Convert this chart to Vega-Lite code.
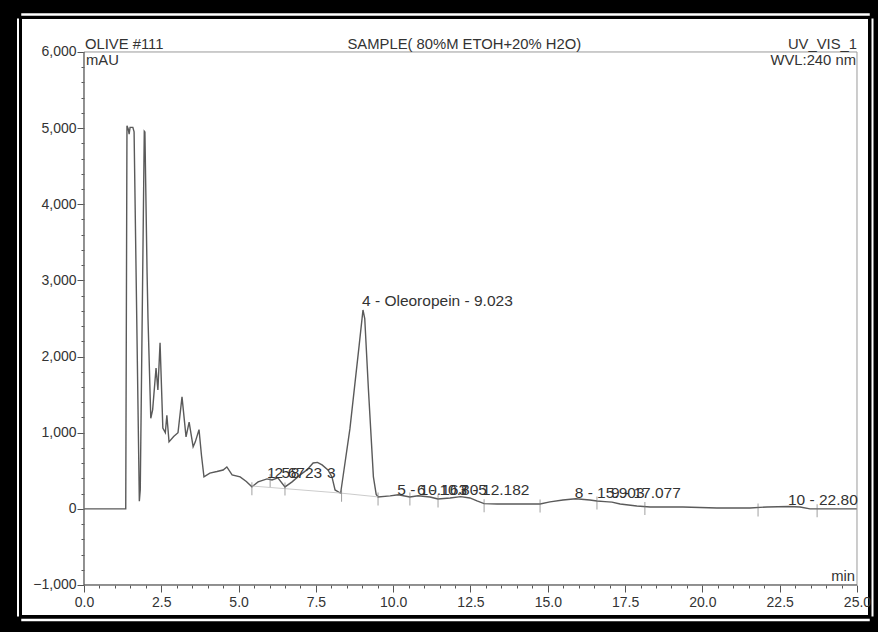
{
  "$schema": "https://vega.github.io/schema/vega-lite/v6.json",
  "width": 846,
  "height": 596,
  "autosize": {"type": "none"},
  "padding": {"left": 22, "top": 19, "right": 10, "bottom": 17},
  "background": "#000000",
  "config": {
    "font": "Liberation Sans",
    "view": {"fill": "#ffffff", "stroke": null}
  },
  "datasets": {
    "curve": [
      {"time": 0.0, "mAU": 0}, {"time": 1.35, "mAU": 0}, {"time": 1.39, "mAU": 5030},
      {"time": 1.43, "mAU": 4990}, {"time": 1.46, "mAU": 4920}, {"time": 1.49, "mAU": 5010},
      {"time": 1.58, "mAU": 5010}, {"time": 1.62, "mAU": 4950}, {"time": 1.79, "mAU": 100},
      {"time": 1.82, "mAU": 250}, {"time": 1.95, "mAU": 4960}, {"time": 1.97, "mAU": 4950},
      {"time": 2.04, "mAU": 3100}, {"time": 2.07, "mAU": 2500}, {"time": 2.16, "mAU": 1190},
      {"time": 2.22, "mAU": 1300}, {"time": 2.33, "mAU": 1850}, {"time": 2.39, "mAU": 1560},
      {"time": 2.46, "mAU": 2180}, {"time": 2.55, "mAU": 1060}, {"time": 2.63, "mAU": 1000},
      {"time": 2.68, "mAU": 1230}, {"time": 2.75, "mAU": 880}, {"time": 2.9, "mAU": 950},
      {"time": 3.04, "mAU": 1000}, {"time": 3.17, "mAU": 1470}, {"time": 3.3, "mAU": 945},
      {"time": 3.4, "mAU": 1140}, {"time": 3.53, "mAU": 815}, {"time": 3.6, "mAU": 880},
      {"time": 3.72, "mAU": 1040}, {"time": 3.8, "mAU": 700}, {"time": 3.88, "mAU": 420},
      {"time": 4.07, "mAU": 470}, {"time": 4.3, "mAU": 490}, {"time": 4.5, "mAU": 510},
      {"time": 4.62, "mAU": 550}, {"time": 4.79, "mAU": 445}, {"time": 5.05, "mAU": 420},
      {"time": 5.25, "mAU": 360}, {"time": 5.43, "mAU": 290}, {"time": 5.63, "mAU": 354},
      {"time": 5.92, "mAU": 393}, {"time": 6.08, "mAU": 380}, {"time": 6.27, "mAU": 406},
      {"time": 6.5, "mAU": 288}, {"time": 6.73, "mAU": 354}, {"time": 6.99, "mAU": 446},
      {"time": 7.21, "mAU": 511}, {"time": 7.41, "mAU": 603}, {"time": 7.55, "mAU": 610},
      {"time": 7.7, "mAU": 577}, {"time": 7.89, "mAU": 511}, {"time": 8.02, "mAU": 419},
      {"time": 8.12, "mAU": 248}, {"time": 8.3, "mAU": 205}, {"time": 8.6, "mAU": 1050},
      {"time": 8.9, "mAU": 2150}, {"time": 9.023, "mAU": 2612}, {"time": 9.08, "mAU": 2500},
      {"time": 9.2, "mAU": 1560}, {"time": 9.36, "mAU": 420}, {"time": 9.45, "mAU": 190},
      {"time": 9.51, "mAU": 157}, {"time": 9.9, "mAU": 170}, {"time": 10.163, "mAU": 185},
      {"time": 10.54, "mAU": 156}, {"time": 10.805, "mAU": 172}, {"time": 11.19, "mAU": 156},
      {"time": 11.45, "mAU": 130}, {"time": 11.84, "mAU": 143}, {"time": 12.182, "mAU": 160},
      {"time": 12.48, "mAU": 143}, {"time": 12.71, "mAU": 104}, {"time": 12.94, "mAU": 68},
      {"time": 13.36, "mAU": 64}, {"time": 13.78, "mAU": 64}, {"time": 14.33, "mAU": 64},
      {"time": 14.75, "mAU": 64}, {"time": 15.07, "mAU": 91}, {"time": 15.49, "mAU": 117},
      {"time": 15.903, "mAU": 132}, {"time": 16.36, "mAU": 117}, {"time": 16.59, "mAU": 104},
      {"time": 16.85, "mAU": 95}, {"time": 17.077, "mAU": 88}, {"time": 17.34, "mAU": 64},
      {"time": 17.88, "mAU": 38}, {"time": 18.31, "mAU": 25}, {"time": 19.37, "mAU": 25},
      {"time": 20.47, "mAU": 12}, {"time": 21.54, "mAU": 12}, {"time": 22.09, "mAU": 25},
      {"time": 22.8, "mAU": 30}, {"time": 23.16, "mAU": 25}, {"time": 23.48, "mAU": 0},
      {"time": 25.0, "mAU": 0}
    ],
    "baseline": [
      {"time": 5.43, "mAU": 300}, {"time": 8.3, "mAU": 207}, {"time": 9.51, "mAU": 157}
    ],
    "cuts": [
      {"time": 5.43, "mAU": 290}, {"time": 6.02, "mAU": 400}, {"time": 6.5, "mAU": 288},
      {"time": 8.33, "mAU": 205}, {"time": 9.51, "mAU": 157}, {"time": 10.54, "mAU": 156},
      {"time": 11.45, "mAU": 130}, {"time": 12.94, "mAU": 68}, {"time": 14.75, "mAU": 64},
      {"time": 16.59, "mAU": 104}, {"time": 18.14, "mAU": 30}, {"time": 21.8, "mAU": 12},
      {"time": 23.71, "mAU": 0}
    ],
    "peaks": [
      {"label": "4 - Oleoropein - 9.023", "time": 9.023, "mAU": 2660},
      {"label": "1", "time": 5.95, "mAU": 406},
      {"label": "2", "time": 6.19, "mAU": 406},
      {"label": "5", "time": 6.42, "mAU": 406},
      {"label": "6723", "time": 6.62, "mAU": 406},
      {"label": "8", "time": 6.72, "mAU": 406},
      {"label": "3", "time": 7.89, "mAU": 406},
      {"label": "5 - 10.163", "time": 10.163, "mAU": 183},
      {"label": "6 - 10.805", "time": 10.805, "mAU": 183},
      {"label": "7 - 12.182", "time": 12.182, "mAU": 183},
      {"label": "8 - 15.903", "time": 15.903, "mAU": 143},
      {"label": "9 - 17.077", "time": 17.077, "mAU": 143},
      {"label": "10 - 22.80", "time": 22.8, "mAU": 51}
    ]
  },
  "resolve": {"axis": {"x": "independent", "y": "independent"}},
  "layer": [
    {
      "data": {"name": "curve"},
      "mark": {"type": "line", "color": "#5a5a5a", "strokeWidth": 1.4},
      "encoding": {
        "x": {
          "field": "time", "type": "quantitative",
          "scale": {"domain": [-2.005, 25.356], "nice": false, "zero": false},
          "axis": {
            "orient": "bottom", "offset": -30, "title": null, "domain": false, "grid": false,
            "values": [0, 0.5, 1, 1.5, 2, 2.5, 3, 3.5, 4, 4.5, 5, 5.5, 6, 6.5, 7, 7.5, 8, 8.5, 9, 9.5, 10, 10.5, 11, 11.5, 12, 12.5, 13, 13.5, 14, 14.5, 15, 15.5, 16, 16.5, 17, 17.5, 18, 18.5, 19, 19.5, 20, 20.5, 21, 21.5, 22, 22.5, 23, 23.5, 24, 24.5, 25],
            "labelExpr": "abs(datum.value / 2.5 - round(datum.value / 2.5)) < 0.001 ? format(datum.value, '.1f') : ''",
            "tickSize": {"condition": {"test": "abs(datum.value / 2.5 - round(datum.value / 2.5)) < 0.001", "value": 7}, "value": 3},
            "tickColor": "#555555", "labelColor": "#333333", "labelFontSize": 14,
            "labelPadding": 3, "labelOverlap": false, "labelFlush": false
          }
        },
        "y": {
          "field": "mAU", "type": "quantitative",
          "scale": {"domain": [-1394, 6433], "nice": false, "zero": false},
          "axis": {
            "orient": "left", "offset": -62, "title": null, "domain": false, "grid": false,
            "values": [-1000, -800, -600, -400, -200, 0, 200, 400, 600, 800, 1000, 1200, 1400, 1600, 1800, 2000, 2200, 2400, 2600, 2800, 3000, 3200, 3400, 3600, 3800, 4000, 4200, 4400, 4600, 4800, 5000, 5200, 5400, 5600, 5800, 6000],
            "labelExpr": "datum.value % 1000 === 0 ? format(datum.value, ',') : ''",
            "tickSize": {"condition": {"test": "datum.value % 1000 === 0", "value": 7}, "value": 3},
            "tickColor": "#555555", "labelColor": "#333333", "labelFontSize": 14,
            "labelPadding": 1, "labelOverlap": false, "labelFlush": false
          }
        }
      }
    },
    {
      "data": {"name": "baseline"},
      "mark": {"type": "line", "color": "#cccccc", "strokeWidth": 1},
      "encoding": {
        "x": {
          "field": "time", "type": "quantitative",
          "scale": {"domain": [-2.005, 25.356], "nice": false, "zero": false},
          "axis": {"orient": "top", "offset": 5, "title": null, "grid": false, "ticks": false, "labels": false,
                   "domainColor": "#ffffff", "domainWidth": 2.5, "domainCap": "square"}
        },
        "y": {
          "field": "mAU", "type": "quantitative",
          "scale": {"domain": [-1394, 6433], "nice": false, "zero": false},
          "axis": {"orient": "right", "offset": 4, "title": null, "grid": false, "ticks": false, "labels": false,
                   "domainColor": "#ffffff", "domainWidth": 2, "domainCap": "square"}
        }
      }
    },
    {
      "data": {"name": "cuts"},
      "mark": {"type": "tick", "orient": "vertical", "size": 13, "thickness": 1, "color": "#777777", "yOffset": 2},
      "encoding": {
        "x": {
          "field": "time", "type": "quantitative",
          "scale": {"domain": [-2.005, 25.356], "nice": false, "zero": false},
          "axis": {"orient": "bottom", "offset": 4.5, "title": null, "grid": false, "ticks": false, "labels": false,
                   "domainColor": "#ffffff", "domainWidth": 2.5, "domainCap": "square"}
        },
        "y": {
          "field": "mAU", "type": "quantitative",
          "scale": {"domain": [-1394, 6433], "nice": false, "zero": false},
          "axis": {"orient": "left", "offset": 4.5, "title": null, "grid": false, "ticks": false, "labels": false,
                   "domainColor": "#ffffff", "domainWidth": 2, "domainCap": "square"}
        }
      }
    },
    {
      "data": {"values": [{}]},
      "mark": {"type": "rect", "filled": false, "stroke": "#9a9a9a", "strokeWidth": 1},
      "encoding": {
        "x": {"datum": 0, "type": "quantitative", "axis": null},
        "x2": {"datum": 25},
        "y": {"datum": -1000, "type": "quantitative", "axis": null},
        "y2": {"datum": 6000}
      }
    },
    {
      "data": {"values": [{}]},
      "mark": {"type": "rule", "color": "#555555", "strokeWidth": 1},
      "encoding": {
        "x": {"datum": 0, "type": "quantitative", "axis": null},
        "y": {"datum": -1000, "type": "quantitative", "axis": null},
        "y2": {"datum": 6000}
      }
    },
    {
      "data": {"values": [{}]},
      "mark": {"type": "rule", "color": "#555555", "strokeWidth": 1},
      "encoding": {
        "x": {"datum": 0, "type": "quantitative", "axis": null},
        "x2": {"datum": 25},
        "y": {"datum": -1000, "type": "quantitative", "axis": null}
      }
    },
    {
      "data": {"name": "peaks"},
      "mark": {"type": "text", "align": "left", "baseline": "alphabetic", "dx": -1, "fontSize": 15.5, "color": "#333333"},
      "encoding": {
        "x": {"field": "time", "type": "quantitative", "axis": null},
        "y": {"field": "mAU", "type": "quantitative", "axis": null},
        "text": {"field": "label"}
      }
    },
    {
      "data": {"values": [{}]},
      "mark": {"type": "text", "text": "OLIVE #111", "align": "left", "baseline": "alphabetic", "dx": 1, "dy": -3, "fontSize": 14.8, "color": "#333333"},
      "encoding": {
        "x": {"datum": 0, "type": "quantitative", "axis": null},
        "y": {"datum": 6000, "type": "quantitative", "axis": null}
      }
    },
    {
      "data": {"values": [{}]},
      "mark": {"type": "text", "text": "SAMPLE( 80%M ETOH+20% H2O)", "align": "center", "baseline": "alphabetic", "dy": -3, "fontSize": 14.8, "color": "#333333"},
      "encoding": {
        "x": {"datum": 12.3, "type": "quantitative", "axis": null},
        "y": {"datum": 6000, "type": "quantitative", "axis": null}
      }
    },
    {
      "data": {"values": [{}]},
      "mark": {"type": "text", "text": "UV_VIS_1", "align": "right", "baseline": "alphabetic", "dy": -3, "fontSize": 14.8, "color": "#333333"},
      "encoding": {
        "x": {"datum": 25, "type": "quantitative", "axis": null},
        "y": {"datum": 6000, "type": "quantitative", "axis": null}
      }
    },
    {
      "data": {"values": [{}]},
      "mark": {"type": "text", "text": "mAU", "align": "left", "baseline": "top", "dx": 2, "dy": 1, "fontSize": 14.8, "color": "#333333"},
      "encoding": {
        "x": {"datum": 0, "type": "quantitative", "axis": null},
        "y": {"datum": 6000, "type": "quantitative", "axis": null}
      }
    },
    {
      "data": {"values": [{}]},
      "mark": {"type": "text", "text": "WVL:240 nm", "align": "right", "baseline": "top", "dx": -1, "dy": 1, "fontSize": 14.8, "color": "#333333"},
      "encoding": {
        "x": {"datum": 25, "type": "quantitative", "axis": null},
        "y": {"datum": 6000, "type": "quantitative", "axis": null}
      }
    },
    {
      "data": {"values": [{}]},
      "mark": {"type": "text", "text": "min", "align": "right", "baseline": "alphabetic", "dx": -2, "dy": -4, "fontSize": 14.8, "color": "#333333"},
      "encoding": {
        "x": {"datum": 25, "type": "quantitative", "axis": null},
        "y": {"datum": -1000, "type": "quantitative", "axis": null}
      }
    }
  ]
}
